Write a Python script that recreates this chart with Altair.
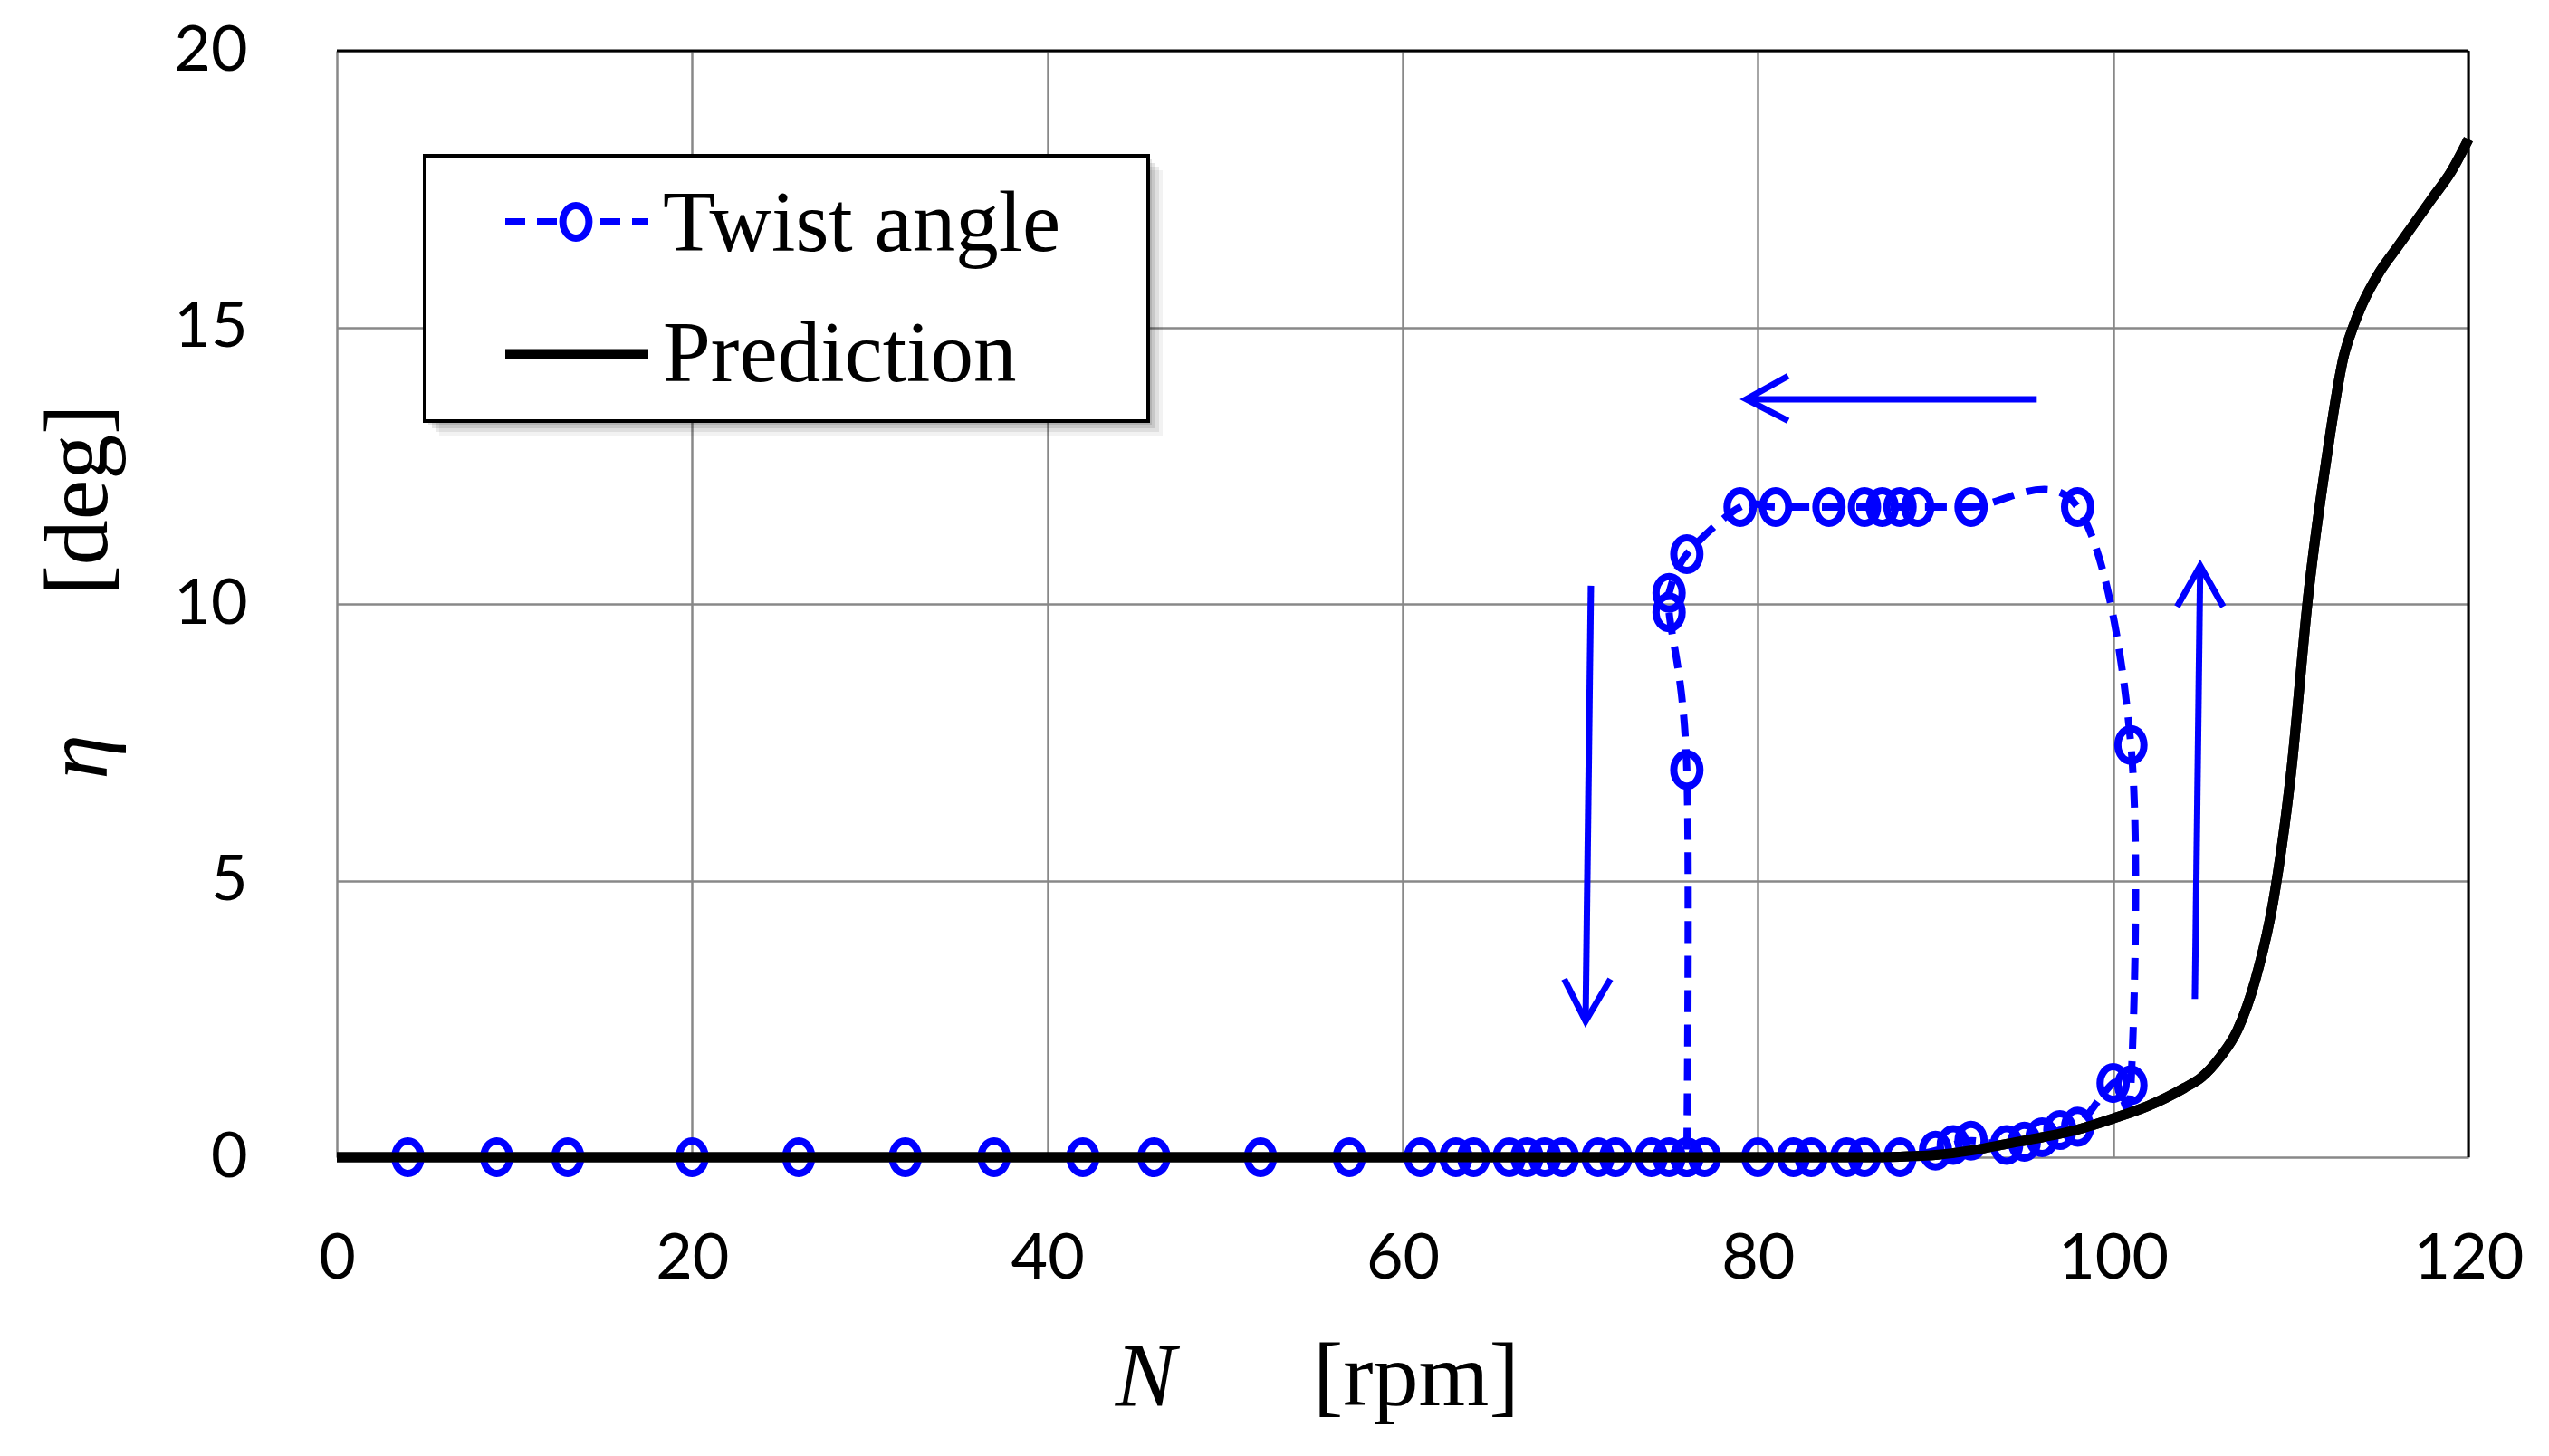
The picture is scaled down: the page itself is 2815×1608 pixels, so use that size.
import altair as alt
import pandas as pd

# ---------------- data ----------------
# Twist angle measurements, in the order of the speed sweep
twist_N = [4, 9, 13, 20, 26, 32, 37, 42, 46, 52, 57,
           61, 63, 64, 66, 67, 68, 69, 71, 72, 74, 75, 76, 77,
           80, 82, 83, 85, 86, 88,
           90, 91, 92, 94, 95, 96, 97, 98, 100, 101,
           101, 98, 92, 89, 88, 87, 86, 84, 81, 79, 76, 75, 75, 76, 76]
twist_eta = [0] * 30 + [0.12, 0.22, 0.30, 0.22, 0.28, 0.36, 0.49, 0.55, 1.34, 1.30,
                        7.45, 11.75, 11.75, 11.75, 11.75, 11.75, 11.75, 11.75, 11.75, 11.75,
                        10.9, 10.2, 9.85, 7.0, 0]

# Prediction curve
pred_N = [0, 80, 86, 88, 90, 92, 94, 96, 98, 100, 102, 104, 105, 106, 107, 108,
          109, 110, 111, 112, 113, 113.5, 114, 115, 116, 117, 118, 119, 120]
pred_eta = [0, 0, 0, 0.01, 0.04, 0.12, 0.24, 0.36, 0.5, 0.7, 0.93, 1.25, 1.45, 1.8,
            2.3, 3.2, 4.6, 6.9, 10.2, 12.6, 14.5, 15.0, 15.4, 16.0, 16.45, 16.9, 17.35, 17.8, 18.4]

# Annotation arrows (shaft and head polylines)
arrow_group = ["down_s", "down_s", "down_h", "down_h", "down_h",
               "up_s", "up_s", "up_h", "up_h", "up_h",
               "left_s", "left_s", "left_h", "left_h", "left_h"]
arrow_N = [70.6, 70.3, 69.1, 70.3, 71.7,
           104.6, 104.9, 103.6, 104.9, 106.2,
           95.7, 79.35, 81.7, 79.35, 81.7]
arrow_eta = [10.33, 2.46, 3.22, 2.46, 3.22,
             2.86, 10.69, 9.95, 10.69, 9.95,
             13.7, 13.7, 14.12, 13.7, 13.31]

x_ticks = [0, 20, 40, 60, 80, 100, 120]
y_ticks = [0, 5, 10, 15, 20]
legend_labels = ["Twist angle", "Prediction"]

# ---------------- frames ----------------
twist_df = pd.DataFrame({"N": twist_N, "eta": twist_eta, "i": list(range(len(twist_N)))})
pred_df = pd.DataFrame({"N": pred_N, "eta": pred_eta})
arrow_df = pd.DataFrame({"g": arrow_group, "N": arrow_N, "eta": arrow_eta,
                         "i": list(range(len(arrow_N)))})
one = pd.DataFrame({"k": [0]})

W, H = 2354, 1222
BLUE = "#0000FF"
SERIF = "Liberation Serif"
ELLIPSE = "M -0.8 0 A 0.8 1 0 1 0 0.8 0 A 0.8 1 0 1 0 -0.8 0 Z"
MSIZE = 1300
MSTROKE = 8

xs = alt.Scale(domain=[0, 120], nice=False, zero=False)
ys = alt.Scale(domain=[0, 20], nice=False)

x_axis = alt.Axis(values=x_ticks, title=None, grid=True, gridColor="#888888", gridWidth=2.5,
                  domain=False, ticks=False, labelFont="Lato", labelFontSize=70, format="d",
                  labelColor="black", labelPadding=78, labelFlush=False)
y_axis = alt.Axis(values=y_ticks, title=None, grid=True, gridColor="#888888", gridWidth=2.5,
                  domain=False, ticks=False, labelFont="Lato", labelFontSize=70, format="d",
                  labelColor="black", labelPadding=99, labelFlush=False)

pred_line = alt.Chart(pred_df).mark_line(color="black", strokeWidth=11, interpolate="monotone").encode(
    x=alt.X("N:Q", scale=xs, axis=x_axis),
    y=alt.Y("eta:Q", scale=ys, axis=y_axis),
)

twist_line = alt.Chart(twist_df).mark_line(
    color=BLUE, strokeWidth=8, strokeDash=[24, 14], interpolate="cardinal"
).encode(
    x=alt.X("N:Q", scale=xs),
    y=alt.Y("eta:Q", scale=ys),
    order="i:Q",
)

twist_pts = alt.Chart(twist_df).mark_point(
    shape=ELLIPSE, size=MSIZE, filled=False, color=BLUE, strokeWidth=MSTROKE, opacity=1
).encode(
    x=alt.X("N:Q", scale=xs),
    y=alt.Y("eta:Q", scale=ys),
)

arrows = alt.Chart(arrow_df).mark_line(color=BLUE, strokeWidth=7, strokeCap="butt").encode(
    x=alt.X("N:Q", scale=xs),
    y=alt.Y("eta:Q", scale=ys),
    detail="g:N",
    order="i:Q",
)

# plot frame: black top and right edges
frame_top = alt.Chart(one).mark_rule(color="black", strokeWidth=3).encode(
    x=alt.value(0), x2=alt.value(W), y=alt.value(0))
frame_right = alt.Chart(one).mark_rule(color="black", strokeWidth=3).encode(
    x=alt.value(W), y=alt.value(0), y2=alt.value(H))

# legend box with soft shadow
LX0, LX1, LY0, LY1 = 97, 896, 116, 409
shadows = []
for off, op in [(4, 0.10), (8, 0.10), (12, 0.08), (16, 0.05)]:
    shadows.append(alt.Chart(one).mark_rect(color="black", opacity=op).encode(
        x=alt.value(LX0 + off), x2=alt.value(LX1 + off),
        y=alt.value(LY0 + off), y2=alt.value(LY1 + off)))
legend_box = alt.Chart(one).mark_rect(fill="white", stroke="black", strokeWidth=4).encode(
    x=alt.value(LX0), x2=alt.value(LX1), y=alt.value(LY0), y2=alt.value(LY1))
leg_dash = alt.Chart(one).mark_rule(color=BLUE, strokeWidth=8, strokeDash=[22, 13]).encode(
    x=alt.value(186), x2=alt.value(344), y=alt.value(189))
leg_pt = alt.Chart(one).mark_point(shape=ELLIPSE, size=MSIZE, filled=False, color=BLUE,
                                   strokeWidth=MSTROKE, opacity=1, fill="white").encode(
    x=alt.value(264), y=alt.value(189))
leg_solid = alt.Chart(one).mark_rule(color="black", strokeWidth=11).encode(
    x=alt.value(186), x2=alt.value(344), y=alt.value(335))
leg_t1 = alt.Chart(one).mark_text(text=legend_labels[0], font=SERIF, fontSize=95, align="left",
                                  baseline="alphabetic", color="black").encode(
    x=alt.value(360), y=alt.value(221))
leg_t2 = alt.Chart(one).mark_text(text=legend_labels[1], font=SERIF, fontSize=95, align="left",
                                  baseline="alphabetic", color="black").encode(
    x=alt.value(360), y=alt.value(365))

# axis titles
t_N = alt.Chart(one).mark_text(text="N", font=SERIF, fontSize=100, fontStyle="italic",
                               align="center", baseline="alphabetic", color="black").encode(
    x=alt.value(893), y=alt.value(1496))
t_rpm = alt.Chart(one).mark_text(text="[rpm]", font=SERIF, fontSize=100, align="left",
                                 baseline="alphabetic", color="black").encode(
    x=alt.value(1078), y=alt.value(1496))
t_eta = alt.Chart(one).mark_text(text="η", font=SERIF, fontSize=100, fontStyle="italic",
                                 angle=270, align="center", baseline="alphabetic",
                                 color="black").encode(
    x=alt.value(-254), y=alt.value(780))
t_deg = alt.Chart(one).mark_text(text="[deg]", font=SERIF, fontSize=100, angle=270,
                                 align="center", baseline="alphabetic", color="black").encode(
    x=alt.value(-254), y=alt.value(496))

chart = alt.layer(
    pred_line, frame_top, frame_right, twist_line, twist_pts, pred_line.encode(), arrows,
    *shadows, legend_box, leg_dash, leg_pt, leg_solid, leg_t1, leg_t2,
    t_N, t_rpm, t_eta, t_deg,
).properties(
    width=W, height=H,
    autosize=alt.AutoSizeParams(type="none"),
    padding={"left": 364, "top": 48, "right": 80, "bottom": 320},
).configure_view(stroke=None).configure(background="white")

chart.save("out.html", embed_options={"renderer": "svg", "actions": False})
